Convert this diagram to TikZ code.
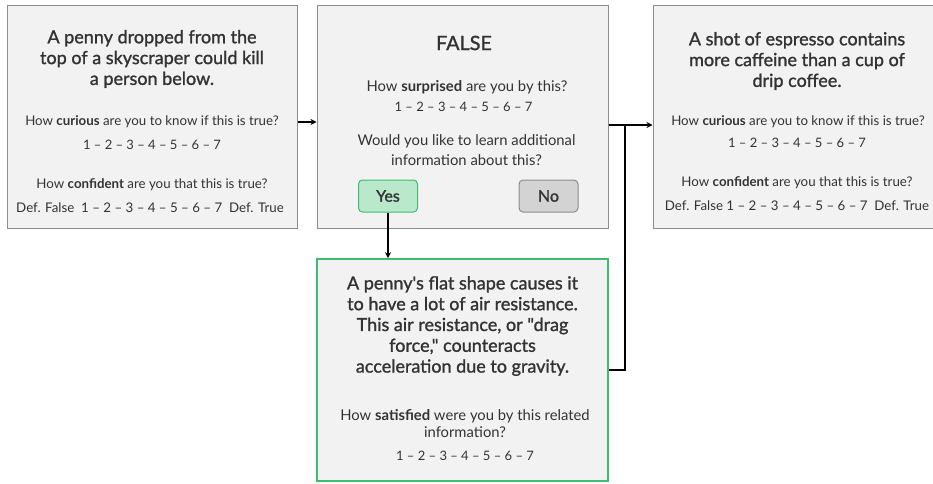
\documentclass[tikz,border=0pt]{standalone}
\usepackage{fontspec}
\setmainfont{Lato}
\newfontfamily\headfont[FakeBold=1.3]{Lato}
\usetikzlibrary{arrows.meta}
\definecolor{cardfill}{HTML}{F2F2F2}
\definecolor{cardline}{HTML}{8C8C8C}
\definecolor{ink}{HTML}{333333}
\definecolor{okline}{HTML}{3DBE6E}
\definecolor{okfill}{HTML}{B9E8CB}
\definecolor{nofill}{HTML}{D3D3D3}
\tikzset{
  card/.style={draw=cardline, line width=1pt, fill=cardfill, inner sep=0pt},
  infocard/.style={card, draw=okline, line width=1.6pt},
  head/.style={font=\headfont\fontsize{18}{20.8}\selectfont, text=ink, align=center},
  ask/.style={font=\fontsize{13.3}{17}\selectfont, text=ink, align=center},
  bigask/.style={font=\fontsize{14.8}{18.5}\selectfont, text=ink, align=center},
  rating/.style={font=\fontsize{13}{16}\selectfont, text=ink, align=center},
  btn/.style={rounded corners=4pt, line width=1pt, minimum width=59pt, minimum height=32pt,
              font=\headfont\fontsize{16}{18}\selectfont, text=ink},
  link/.style={line width=1.5pt, black},
  arr/.style={link, -{Stealth[length=6pt,width=6pt]}}
}
\newcommand{\scale}{1 – 2 – 3 – 4 – 5 – 6 – 7}
\begin{document}
\begin{tikzpicture}[x=1pt, y=-1pt]
\useasboundingbox (0,0) rectangle (933,483);

% statement cards
\node[card, minimum width=290pt, minimum height=223pt] (q1) at (152,116.5) {};
\node[card, minimum width=291pt, minimum height=223pt] (fb) at (462.5,116.5) {};
\node[card, minimum width=288pt, minimum height=223pt] (q2) at (797,116.5) {};
\node[infocard, minimum width=291pt, minimum height=222pt] (info) at (462.5,370) {};

% left statement
\node[head] (q1t) at (152,59) {A penny dropped from the\\top of a skyscraper could kill\\a person below.};
\node[ask] (q1a) at (152,122) {How \textbf{curious} are you to know if this is true?};
\node[rating] (q1b) at (152,145) {\scale};
\node[ask] (q1c) at (152,185) {How \textbf{confident} are you that this is true?};
\node[rating, font=\fontsize{13.3}{16}\selectfont] (q1d) at (150,208) {Def. False \ \scale\ \ Def. True};

% feedback card
\node[head, font=\headfont\fontsize{19.8}{22}\selectfont] (fbt) at (464,43) {FALSE};
\node[bigask] (fba) at (467,87) {How \textbf{surprised} are you by this?};
\node[rating] (fbb) at (463.5,107) {\scale};
\node[bigask, font=\fontsize{14.8}{20}\selectfont] (fbc) at (466.5,150) {Would you like to learn additional\\information about this?};
\node[btn, draw=okline, fill=okfill] (yes) at (388,196) {Yes};
\node[btn, draw=cardline, fill=nofill] (no) at (548.5,196) {No};

% right statement
\node[head] (q2t) at (797,61) {A shot of espresso contains\\more caffeine than a cup of\\drip coffee.};
\node[ask] (q2a) at (798,122) {How \textbf{curious} are you to know if this is true?};
\node[rating] (q2b) at (797,143) {\scale};
\node[ask] (q2c) at (797,183) {How \textbf{confident} are you that this is true?};
\node[rating, font=\fontsize{13.3}{16}\selectfont] (q2d) at (797,206) {Def. False \scale\ \ Def. True};

% related information
\node[head] (it) at (462.5,326) {A penny's flat shape causes it\\to have a lot of air resistance.\\This air resistance, or "drag\\force," counteracts\\acceleration due to gravity.};
\node[bigask, font=\fontsize{14.8}{17.5}\selectfont] (ia) at (465,423.5) {How \textbf{satisfied} were you by this related\\information?};
\node[rating] (ib) at (465,456) {\scale};

% connectors
\coordinate (join) at (625,125);
\draw[arr] (q1.east |- 0,122) -- (fb.west |- 0,122);
\draw[arr] (yes.south) -- (yes.south |- info.north);
\draw[arr] (fb.east |- join) -- (q2.west |- join);
\draw[link] (info.east |- 0,370) -| (join);
\end{tikzpicture}
\end{document}
